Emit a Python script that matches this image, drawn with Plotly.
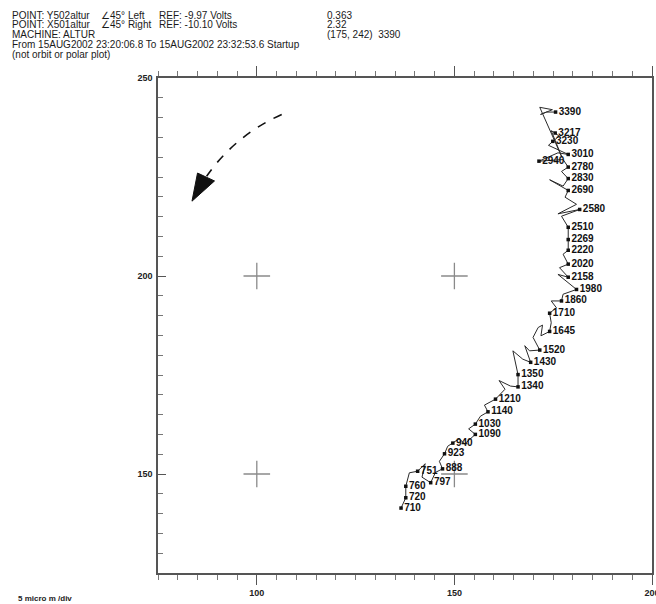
import plotly.graph_objects as go

# ---------------- data ----------------
path_x = [136.5, 137.7, 137.7, 138.6, 140.7, 142.6, 141.8, 144.0, 145.2, 147.0,
          146.2, 147.5, 148.3, 149.6, 151.2, 152.6, 155.3, 153.6, 155.3, 156.6,
          158.5, 157.6, 160.4, 162.8, 161.3, 164.2, 166.1, 166.1, 164.8, 167.3,
          169.3, 167.8, 169.0, 171.6, 169.9, 171.2, 172.3, 171.9, 174.1, 174.5,
          174.1, 175.8, 174.5, 177.1, 177.5, 180.9, 176.2, 178.8, 176.6, 178.8,
          177.5, 178.8, 178.8, 178.8, 177.1, 181.7, 176.2, 180.9, 178.0, 178.8,
          174.1, 177.5, 178.8, 177.1, 178.8, 177.5, 171.4, 176.2, 178.8, 173.8,
          174.9, 176.5, 175.5, 174.5, 177.2, 171.6, 174.8, 171.8, 173.3, 175.6]
path_y = [141.4, 144.0, 146.9, 150.3, 150.7, 152.6, 149.2, 147.8, 150.4, 151.3,
          153.2, 155.1, 157.0, 157.8, 158.9, 157.6, 160.0, 161.4, 162.6, 164.6,
          165.7, 167.4, 168.9, 171.4, 173.6, 172.2, 172.0, 175.1, 181.1, 179.0,
          178.2, 182.4, 181.1, 181.3, 184.5, 187.0, 187.6, 184.9, 186.0, 188.2,
          190.6, 192.0, 193.7, 193.7, 195.4, 196.6, 200.4, 199.7, 202.1, 203.0,
          205.5, 206.5, 209.2, 212.3, 215.1, 216.8, 215.7, 218.1, 219.9, 221.6,
          224.3, 222.7, 224.6, 226.4, 227.5, 229.4, 229.0, 231.1, 230.7, 233.0,
          234.0, 235.3, 236.1, 236.7, 230.0, 242.6, 242.0, 240.8, 241.4, 241.4]

speed_labels = ["710", "720", "760", "751", "797", "888", "923", "940", "1090", "1030",
                "1140", "1210", "1340", "1350", "1430", "1520", "1645", "1710", "1860",
                "1980", "2158", "2020", "2220", "2269", "2510", "2580", "2690", "2830",
                "2780", "2940", "3010", "3230", "3217", "3390"]
label_x = [136.5, 137.7, 137.7, 140.7, 144.0, 147.0, 147.5, 149.6, 155.3, 155.3,
           158.5, 160.4, 166.1, 166.1, 169.3, 171.6, 174.1, 174.1, 177.1,
           180.9, 178.8, 178.8, 178.8, 178.8, 178.8, 181.7, 178.8, 178.8,
           178.8, 171.4, 178.8, 174.9, 175.5, 175.6]
label_y = [141.4, 144.0, 146.9, 150.7, 147.8, 151.3, 155.1, 157.8, 160.0, 162.6,
           165.7, 168.9, 172.0, 175.1, 178.2, 181.3, 186.0, 190.6, 193.7,
           196.6, 199.7, 203.0, 206.5, 209.2, 212.3, 216.8, 221.6, 224.6,
           227.5, 229.0, 230.7, 234.0, 236.1, 241.4]

cross_x = [100, 150, 100, 150]
cross_y = [200, 200, 150, 150]

x_range = [75, 200]
y_range = [125, 250]
major_ticks = [100, 150, 200, 250]

header_rows = [
    ["POINT: Y502altur", "\u222045\u00b0 Left", "REF: -9.97 Volts", "0.363"],
    ["POINT: X501altur", "\u222045\u00b0 Right", "REF: -10.10 Volts", "2.32"],
    ["MACHINE: ALTUR", "", "", "(175, 242)  3390"],
    ["From 15AUG2002 23:20:06.8 To 15AUG2002 23:32:53.6 Startup", "", "", ""],
    ["(not orbit or polar plot)", "", "", ""],
]
scale_note = "5 micro m /div"

# ---------------- layout helpers ----------------
W, H = 656, 604
ML, MR, MT, MB = 158, 4, 78, 31
PW, PH = W - ML - MR, H - MT - MB


def px2paper(px, py):
    return (px - ML) / PW, 1 - (py - MT) / PH


FONT = "Liberation Sans, Arial, sans-serif"

fig = go.Figure()

# crosshair reference marks
fig.add_trace(go.Scatter(
    x=cross_x, y=cross_y, mode="markers",
    marker=dict(symbol="cross-thin", size=19, line=dict(color="#8a8a8a", width=1.3)),
    hoverinfo="skip", showlegend=False))

# trajectory
fig.add_trace(go.Scatter(
    x=path_x, y=path_y, mode="lines",
    line=dict(color="#2a2a2a", width=1),
    hoverinfo="skip", showlegend=False))

# labelled speed points
fig.add_trace(go.Scatter(
    x=label_x, y=label_y, mode="markers+text",
    text=speed_labels, textposition="middle right",
    textfont=dict(family=FONT, size=10, color="#111", weight="bold"),
    marker=dict(symbol="square", size=3.5, color="#111"),
    hoverinfo="skip", showlegend=False))

# curved dashed rotation arrow (data coordinates)
fig.add_shape(type="path", xref="x", yref="y",
              path="M 106.3,240.8 Q 94.5,235.5 87.3,225.2",
              line=dict(color="#111", width=1.6, dash="dash"))
fig.add_shape(type="path", xref="x", yref="y",
              path="M 83.6,218.9 L 85.0,226.0 L 89.3,224.0 Z",
              fillcolor="#111", line=dict(color="#111", width=1))

# header text
col_px = [10, 99, 157, 325]
row_py = [15, 25, 34.5, 44.5, 54.5]
for r, row in enumerate(header_rows):
    for c, txt in enumerate(row):
        if not txt:
            continue
        xp, yp = px2paper(col_px[c], row_py[r])
        fig.add_annotation(x=xp, y=yp, xref="paper", yref="paper",
                           text=txt, showarrow=False, xanchor="left", yanchor="middle",
                           font=dict(family=FONT, size=10, color="#1a1a1a"))

xp, yp = px2paper(16, 598)
fig.add_annotation(x=xp, y=yp, xref="paper", yref="paper", text=scale_note,
                   showarrow=False, xanchor="left", yanchor="middle",
                   font=dict(family=FONT, size=8, color="#222", weight="bold"))

axis_common = dict(showgrid=False, zeroline=False, showline=True,
                   linecolor="#555", linewidth=1.5,
                   tickmode="array", tickvals=major_ticks,
                   tickfont=dict(family=FONT, size=9, color="#222", weight="bold"),
                   tickcolor="#555", tickwidth=1.3, ticklabeloverflow="allow")

fig.update_xaxes(range=x_range, ticks="outside", ticklen=10,
                 mirror="ticks",
                 minor=dict(dtick=5, tick0=0, ticks="outside", ticklen=5,
                            tickcolor="#777", tickwidth=1, showgrid=False),
                 **axis_common)
fig.update_yaxes(range=y_range, ticks="inside", ticklen=8,
                 mirror=True, ticklabelstandoff=2,
                 minor=dict(dtick=5, tick0=0, ticks="inside", ticklen=5,
                            tickcolor="#777", tickwidth=1, showgrid=False),
                 **axis_common)

fig.update_layout(template="none", width=W, height=H,
                  margin=dict(l=ML, r=MR, t=MT, b=MB, autoexpand=False),
                  paper_bgcolor="white", plot_bgcolor="white",
                  showlegend=False, hovermode=False)

fig.write_html("out.html")
